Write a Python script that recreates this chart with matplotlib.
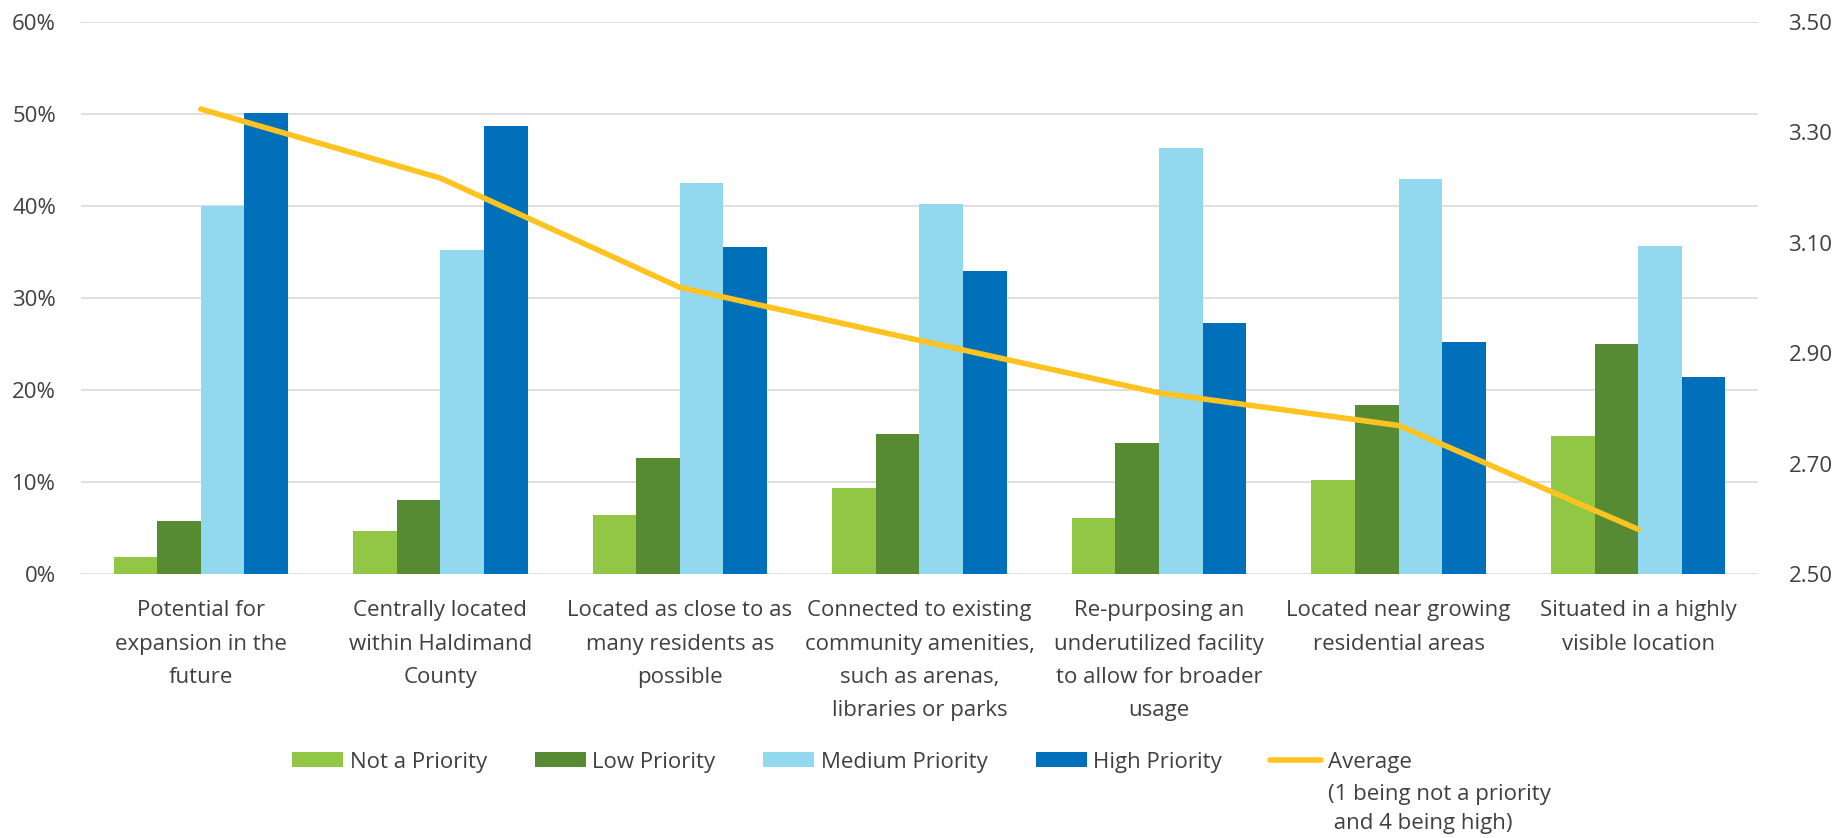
import numpy as np
import matplotlib
matplotlib.use("Agg")
import matplotlib.pyplot as plt
from matplotlib.ticker import PercentFormatter, FormatStrFormatter

plt.rcParams['font.family'] = ['Open Sans', 'DejaVu Sans']

# Data
categories = [
    "Potential for\nexpansion in the\nfuture",
    "Centrally located\nwithin Haldimand\nCounty",
    "Located as close to as\nmany residents as\npossible",
    "Connected to existing\ncommunity amenities,\nsuch as arenas,\nlibraries or parks",
    "Re-purposing an\nunderutilized facility\nto allow for broader\nusage",
    "Located near growing\nresidential areas",
    "Situated in a highly\nvisible location",
]
not_priority = [1.9, 4.7, 6.4, 9.3, 6.1, 10.25, 15.0]
low_priority = [5.8, 8.0, 12.6, 15.2, 14.2, 18.4, 25.0]
medium_priority = [40.0, 35.2, 42.5, 40.2, 46.25, 42.9, 35.6]
high_priority = [50.1, 48.7, 35.5, 32.9, 27.25, 25.2, 21.4]
average = [3.342, 3.217, 3.019, 2.923, 2.828, 2.769, 2.581]

series_names = ["Not a Priority", "Low Priority", "Medium Priority", "High Priority"]
colors = ["#92C746", "#568B34", "#92D8EF", "#0070BA"]
line_color = "#FFC31F"
text_color = "#404040"
fs = 16

fig = plt.figure(figsize=(18.48, 8.38), dpi=100)
ax = fig.add_axes([0.0438, 0.315, 0.9075, 0.659])

x = np.arange(len(categories))
w = 0.182
handles = []
for i, (vals, c, name) in enumerate(zip([not_priority, low_priority, medium_priority, high_priority],
                                        colors, series_names)):
    b = ax.bar(x + (i - 1.5) * w, vals, w, color=c, linewidth=0, label=name)
    handles.append(b)

ax.set_xlim(-0.5, len(categories) - 0.5)
ax.set_ylim(0, 60)
ax.set_yticks(np.arange(0, 61, 10))
ax.yaxis.set_major_formatter(PercentFormatter(decimals=0))
ax.set_xticks(x, categories, linespacing=1.76)
ax.set_axisbelow(True)
ax.grid(axis='y', color='#D9D9D9', linewidth=1.2)
ax.tick_params(axis='x', length=0, pad=19, labelsize=fs, labelcolor=text_color)
ax.tick_params(axis='y', length=0, pad=18, labelsize=fs, labelcolor=text_color)
for s in ax.spines.values():
    s.set_visible(False)

ax2 = ax.twinx()
line, = ax2.plot(x, average, color=line_color, linewidth=4, solid_capstyle='round',
                 label="Average")
ax2.set_ylim(2.5, 3.5)
ax2.set_yticks(np.arange(2.5, 3.51, 0.2))
ax2.yaxis.set_major_formatter(FormatStrFormatter('%.2f'))
ax2.tick_params(axis='y', length=0, pad=22, labelsize=fs, labelcolor=text_color)
for s in ax2.spines.values():
    s.set_visible(False)

leg = fig.legend(handles + [line], series_names + ["Average"], loc='center left',
                 bbox_to_anchor=(292 / 1848, 1 - 762 / 838), ncol=5, frameon=False,
                 fontsize=fs, handlelength=2.3, handleheight=0.68, handletextpad=0.3,
                 columnspacing=2.15, borderpad=0, borderaxespad=0)
for t in leg.get_texts():
    t.set_color(text_color)

fig.canvas.draw()
bb = leg.get_texts()[-1].get_window_extent()
fig.text(bb.x0 / fig.bbox.width, (bb.y0 - 11) / fig.bbox.height,
         "(1 being not a priority\n and 4 being high)", ha='left', va='top',
         fontsize=fs, color=text_color, linespacing=1.55)

fig.savefig("out.png", dpi=100)
